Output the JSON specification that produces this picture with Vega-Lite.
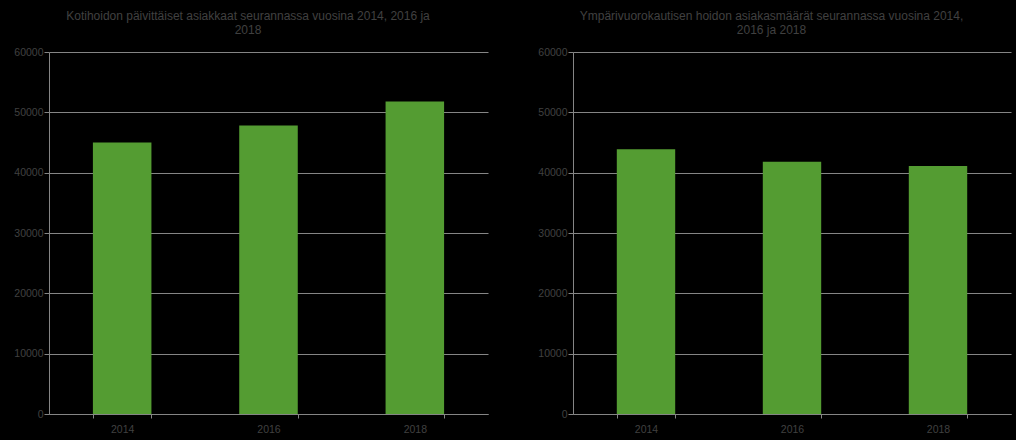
{
  "$schema": "https://vega.github.io/schema/vega-lite/v6.json",
  "background": "black",
  "padding": {"left": 8, "top": 10, "right": 5, "bottom": 5},
  "spacing": 44,
  "datasets": {
    "koti": [
      {"vuosi": "2014", "asiakkaat": 45000},
      {"vuosi": "2016", "asiakkaat": 47800},
      {"vuosi": "2018", "asiakkaat": 51800}
    ],
    "ymp": [
      {"vuosi": "2014", "asiakkaat": 43900},
      {"vuosi": "2016", "asiakkaat": 41800},
      {"vuosi": "2018", "asiakkaat": 41100}
    ]
  },
  "config": {
    "view": {"stroke": null},
    "font": "Liberation Sans",
    "title": {"fontSize": 12, "fontWeight": "normal", "color": "#404040", "anchor": "middle", "frame": "bounds", "offset": 10, "lineHeight": 14},
    "axis": {
      "labelColor": "#404040",
      "labelFont": "Liberation Sans",
      "labelFontSize": 10.5,
      "domainColor": "#858585",
      "tickColor": "#858585",
      "gridColor": "#858585",
      "title": null
    },
    "bar": {"color": "#549c32"}
  },
  "hconcat": [
    {
      "data": {"name": "koti"},
      "width": 439,
      "height": 362,
      "title": {"text": ["Kotihoidon päivittäiset asiakkaat seurannassa vuosina 2014, 2016 ja", "2018"]},
      "mark": {"type": "bar"},
      "encoding": {
        "x": {
          "field": "vuosi", "type": "ordinal",
          "scale": {"paddingInner": 0.6, "paddingOuter": 0.3},
          "axis": {"labelAngle": 0, "tickBand": "extent", "tickSize": 4, "labelPadding": 6, "grid": false}
        },
        "y": {
          "field": "asiakkaat", "type": "quantitative",
          "scale": {"domain": [0, 60000], "nice": false},
          "axis": {"values": [0, 10000, 20000, 30000, 40000, 50000, 60000], "format": "d", "tickSize": 5, "labelPadding": 1, "minExtent": 41, "maxExtent": 41, "grid": true}
        }
      }
    },
    {
      "data": {"name": "ymp"},
      "width": 438,
      "height": 362,
      "title": {"text": ["Ympärivuorokautisen hoidon asiakasmäärät seurannassa vuosina 2014,", "2016 ja 2018"]},
      "mark": {"type": "bar"},
      "encoding": {
        "x": {
          "field": "vuosi", "type": "ordinal",
          "scale": {"paddingInner": 0.6, "paddingOuter": 0.3},
          "axis": {"labelAngle": 0, "tickBand": "extent", "tickSize": 4, "labelPadding": 6, "grid": false}
        },
        "y": {
          "field": "asiakkaat", "type": "quantitative",
          "scale": {"domain": [0, 60000], "nice": false},
          "axis": {"values": [0, 10000, 20000, 30000, 40000, 50000, 60000], "format": "d", "tickSize": 5, "labelPadding": 1, "minExtent": 41, "maxExtent": 41, "grid": true}
        }
      }
    }
  ]
}
